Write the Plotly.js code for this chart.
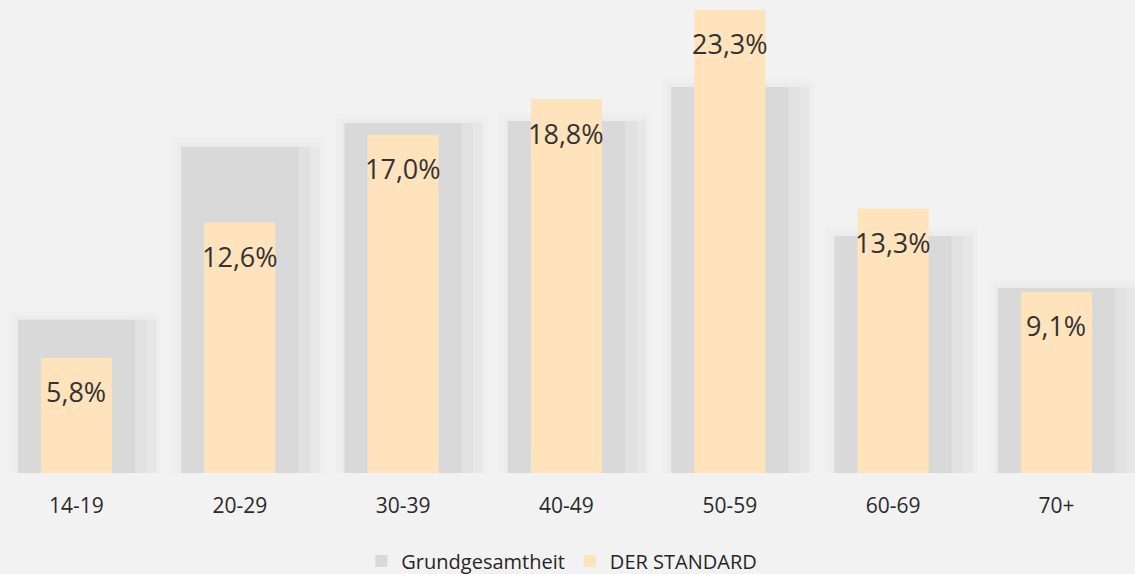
<!DOCTYPE html>
<html>
<head>
<meta charset="utf-8">
<script src="https://cdn.plot.ly/plotly-3.0.1.min.js"></script>
<style>
  html, body { margin: 0; padding: 0; background: #f2f2f2; }
  #chart { width: 1135px; height: 574px; }
</style>
</head>
<body>
<div id="chart"></div>
<script>
const categories = ["14-19", "20-29", "30-39", "40-49", "50-59", "60-69", "70+"];
const grundgesamtheit = [7.7, 16.4, 17.6, 17.7, 19.4, 11.9, 9.3];
const derStandard = [5.8, 12.6, 17.0, 18.8, 23.3, 13.3, 9.1];
const labels = ["5,8%", "12,6%", "17,0%", "18,8%", "23,3%", "13,3%", "9,1%"];

const FONT = "Open Sans, Noto Sans, sans-serif";
const xIdx = categories.map((c, i) => i);

const gw = 0.716, ow = 0.435;

function shadow(w, offset, color, lw) {
  return {
    type: "bar", x: xIdx, y: grundgesamtheit,
    width: w, offset: offset,
    marker: { color: color, line: { color: color, width: lw } },
    showlegend: false, hoverinfo: "skip"
  };
}

const traces = [
  shadow(0.820, -0.358, "#efefef", 18),
  shadow(0.820, -0.358, "#ececec", 8),
  shadow(0.848, -0.358, "#e7e7e7", 0),
  shadow(0.787, -0.358, "#e1e1e1", 0),
  {
    type: "bar", name: "Grundgesamtheit", x: xIdx, y: grundgesamtheit,
    width: gw, marker: { color: "#d9d9d9" }
  },
  {
    type: "bar", name: "DER STANDARD", x: xIdx, y: derStandard,
    width: ow, marker: { color: "#fee3bc" }
  }
];

const annotations = derStandard.map((v, i) => ({
  x: i, y: v, xref: "x", yref: "y",
  text: labels[i], showarrow: false,
  yanchor: "middle", yshift: -34,
  font: { family: FONT, size: 27, color: "#333333" }
}));

const layout = {
  width: 1135, height: 574,
  paper_bgcolor: "#f2f2f2", plot_bgcolor: "#f2f2f2",
  margin: { l: 0, r: 0, t: 0, b: 101, autoexpand: false },
  barmode: "overlay",
  xaxis: {
    range: [-0.468, 6.481],
    tickmode: "array", tickvals: xIdx, ticktext: categories,
    showgrid: false, zeroline: false, showline: false, ticks: "",
    ticklabelstandoff: 18,
    tickfont: { family: FONT, size: 21, color: "#2a2a2a" },
    automargin: false, fixedrange: true
  },
  yaxis: {
    range: [0, 23.78], visible: false, showgrid: false, zeroline: false,
    automargin: false, fixedrange: true
  },
  showlegend: true,
  legend: {
    orientation: "h", x: 0.495, xanchor: "center", y: -0.186, yanchor: "middle",
    font: { family: FONT, size: 20, color: "#262626" },
    bgcolor: "rgba(0,0,0,0)"
  },
  annotations: annotations
};

Plotly.newPlot("chart", traces, layout, { displayModeBar: false, staticPlot: true });
</script>
</body>
</html>
